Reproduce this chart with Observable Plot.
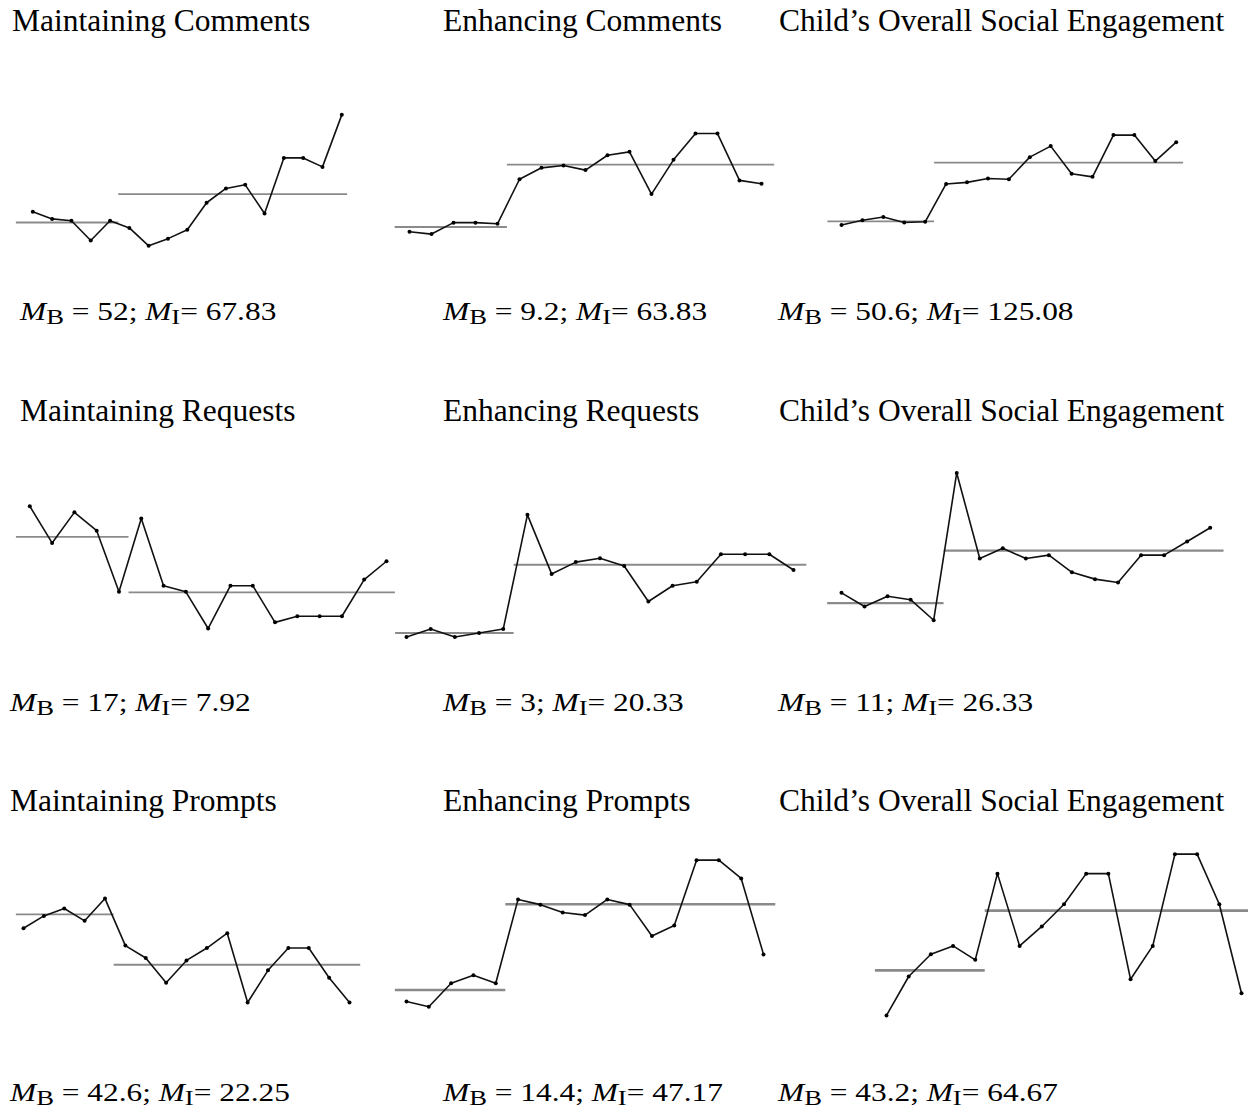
<!DOCTYPE html>
<html>
<head>
<meta charset="utf-8">
<script src="https://cdn.jsdelivr.net/npm/d3@7"></script>
<script src="https://cdn.jsdelivr.net/npm/@observablehq/plot@0.6"></script>
<style>
  html, body { margin: 0; padding: 0; background: #fff; }
  #page { position: relative; width: 1248px; height: 1112px; background: #fff; overflow: hidden;
          font-family: "Liberation Serif", "Times New Roman", serif; color: #000; }
  .title { position: absolute; font-size: 31.5px; line-height: 31.5px; white-space: nowrap; }
  .caption { position: absolute; font-size: 24.5px; line-height: 24.5px; white-space: nowrap;
             transform: scaleX(1.28); transform-origin: 0 0; }
  .caption sub { font-size: 0.85em; vertical-align: -0.17em; line-height: 0; }
  .cell { position: absolute; }
</style>
</head>
<body>
<div id="page"></div>
<script>
// ---- data ----
const titles = [
  "Maintaining Comments", "Enhancing Comments", "Child’s Overall Social Engagement",
  "Maintaining Requests", "Enhancing Requests", "Child’s Overall Social Engagement",
  "Maintaining Prompts", "Enhancing Prompts", "Child’s Overall Social Engagement"
];
// baseline sessions 1-5
const baseline = [
  [58, 54, 53, 42, 53],
  [5, 3, 13, 13, 12],
  [46, 52, 56, 49, 50],
  [22, 16, 21, 18, 8],
  [2, 4, 2, 3, 4],
  [14, 10, 13, 12, 6],
  [37, 42, 45, 40, 49],
  [10, 8, 17, 20, 17],
  [27, 41, 49, 52, 47]
];
// intervention sessions 6-17
const intervention = [
  [49, 39, 43, 48, 63, 71, 73, 57, 88, 88, 83, 112],
  [51, 61, 63, 59, 72, 75, 38, 68, 91, 91, 50, 47],
  [98, 100, 105, 104, 132, 146, 111, 107, 160, 160, 127, 151],
  [20, 9, 8, 2, 9, 9, 3, 4, 4, 4, 10, 13],
  [33, 18, 21, 22, 20, 11, 15, 16, 23, 23, 23, 19],
  [49, 24, 27, 24, 25, 20, 18, 17, 25, 25, 29, 33],
  [30, 25, 15, 24, 29, 35, 7, 20, 29, 29, 17, 7],
  [49, 47, 44, 43, 49, 47, 35, 39, 64, 64, 57, 28],
  [78, 52, 59, 67, 78, 78, 40, 52, 85, 85, 67, 35]
];
const meanB = [52, 9.2, 50.6, 17, 3, 11, 42.6, 14.4, 43.2];
const meanI = [67.83, 63.83, 125.08, 7.92, 20.33, 26.33, 22.25, 47.17, 64.67];
// extent of the phase mean lines, in session units
const phaseExtent = [
  [0.15, 5.45, 5.45, 17.3],
  [0.35, 5.45, 5.45, 17.6],
  [0.35, 5.45, 5.45, 17.35],
  [0.4, 5.45, 5.45, 17.4],
  [0.55, 5.45, 5.45, 17.55],
  [0.4, 5.45, 5.45, 17.6],
  [0.65, 5.45, 5.45, 17.55],
  [0.5, 5.45, 5.45, 17.55],
  [0.5, 5.45, 5.45, 17.45]
];

// ---- layout (page pixels) ----
const colLeft = [0, 392, 812], colWidth = [392, 420, 436];
const rowTop = [80, 450, 830], rowHeight = [200, 200, 200];
// session 1 and 17 x positions
const xPix = [[32.3, 341.3], [409, 761], [841, 1175.7],
              [29.3, 386], [406, 793], [841, 1209.7],
              [23, 349], [406, 763], [886, 1241]];
// y pixel positions of the baseline mean and intervention mean
const yPix = [[222, 193.6], [226.5, 164.1], [220.8, 162.1],
              [536.3, 591.8], [632.5, 564.25], [602.6, 550.1],
              [913.9, 964.25], [989.5, 903.7], [969.9, 910.2]];
const meanStroke = [1.8, 1.8, 1.8, 1.8, 1.8, 2.2, 1.8, 2.6, 2.8];
const titlePos = [[12, 5], [443, 5], [779, 5], [20, 395], [443, 395], [779, 395], [10, 785], [443, 785], [779, 785]];
const captionPos = [[20, 299.5], [443, 299.5], [778, 299.5], [10, 690.5], [443, 690.5], [778, 690.5], [10, 1081], [443, 1081], [778, 1081]];

const page = document.getElementById("page");

for (let k = 0; k < 9; k++) {
  const r = Math.floor(k / 3), c = k % 3;
  const left = colLeft[c], top = rowTop[r];
  const pts = [
    ...baseline[k].map((v, i) => ({session: i + 1, value: v})),
    ...intervention[k].map((v, i) => ({session: i + 6, value: v}))
  ];
  const ext = phaseExtent[k];
  const means = [
    {x1: ext[0], x2: ext[1], y: meanB[k]},
    {x1: ext[2], x2: ext[3], y: meanI[k]}
  ];
  const svg = Plot.plot({
    width: colWidth[c],
    height: rowHeight[r],
    margin: 0,
    style: "background: transparent; overflow: visible;",
    x: {domain: [1, 17], range: [xPix[k][0] - left, xPix[k][1] - left], axis: null},
    y: {domain: [meanB[k], meanI[k]], range: [yPix[k][0] - top, yPix[k][1] - top], axis: null},
    marks: [
      Plot.ruleY(means, {y: "y", x1: "x1", x2: "x2", stroke: "#8a8a8a", strokeWidth: meanStroke[k]}),
      Plot.line(pts, {x: "session", y: "value", stroke: "#111", strokeWidth: 1.6}),
      Plot.dot(pts, {x: "session", y: "value", r: 2, fill: "#000", stroke: "none"})
    ]
  });
  const cell = document.createElement("div");
  cell.className = "cell";
  cell.style.left = left + "px";
  cell.style.top = top + "px";
  cell.appendChild(svg);
  page.appendChild(cell);

  const t = document.createElement("div");
  t.className = "title";
  t.style.left = titlePos[k][0] + "px";
  t.style.top = titlePos[k][1] + "px";
  t.textContent = titles[k];
  page.appendChild(t);

  const cap = document.createElement("div");
  cap.className = "caption";
  cap.style.left = captionPos[k][0] + "px";
  cap.style.top = captionPos[k][1] + "px";
  cap.innerHTML = `<i>M</i><sub>B</sub> = ${meanB[k]}; <i>M</i><sub>I</sub>= ${meanI[k]}`;
  page.appendChild(cap);
}
</script>
</body>
</html>
